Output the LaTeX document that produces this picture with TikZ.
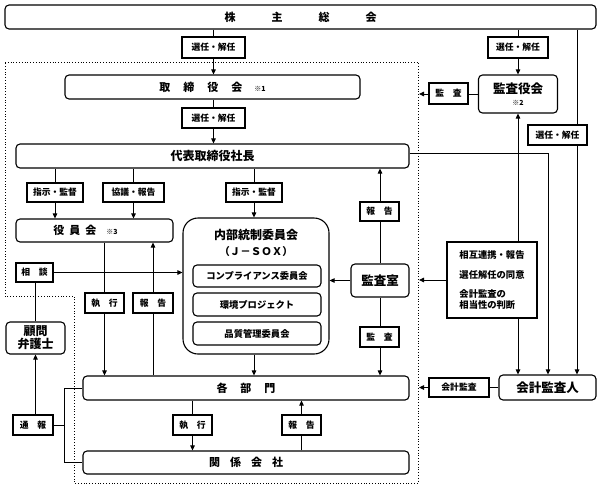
\documentclass[tikz,border=0pt]{standalone}
\usepackage{fontspec}
\setmainfont{Noto Sans CJK JP}
\usetikzlibrary{arrows.meta,backgrounds}
\tikzset{
  rbox/.style={draw, line width=1.1pt, rounded corners=4pt, fill=white, inner sep=0pt, align=center, font=\bfseries\fontsize{11}{13}\selectfont},
  sbox/.style={draw, line width=1.1pt, fill=white, inner sep=0pt},
  lbl/.style={draw, line width=1.3pt, fill=white, inner sep=0pt, font=\bfseries\fontsize{8.8}{10}\selectfont},
  conn/.style={line width=0.9pt},
  arr/.style={conn, -{Triangle[length=5pt,width=4.5pt]}},
  dotb/.style={line width=0.8pt, dotted}
}
\newcommand{\smallnote}[1]{{\fontsize{7}{8}\selectfont #1}}
\begin{document}
\begin{tikzpicture}[x=1pt,y=-1pt]
\useasboundingbox (0,0) rectangle (601,490);
% main boxes
\node[rbox, minimum width=591, minimum height=24] (kabu) at (300.5,17) {株\hspace{36pt}主\hspace{36pt}総\hspace{36pt}会};
\node[rbox, minimum width=295, minimum height=24] (tori) at (212.5,87) {取\hspace{13pt}締\hspace{13pt}役\hspace{13pt}会\hspace{12pt}\smallnote{※1}};
\node[rbox, minimum width=393, minimum height=24, font=\bfseries\fontsize{12}{14}\selectfont] (daihyo) at (212.5,156) {代表取締役社長};
\node[rbox, minimum width=79, minimum height=38, font=\bfseries\fontsize{12.5}{14}\selectfont] (kansayaku) at (518,94) {監査役会\\[-2pt]\smallnote{※2}};
\node[rbox, minimum width=157, minimum height=23] (yakuin) at (94.5,230.5) {役\hspace{5pt}員\hspace{5pt}会\hspace{10pt}\smallnote{※3}\hspace{18pt}};
\node[draw, line width=1.1pt, rounded corners=15pt, fill=white, minimum width=146, minimum height=136, inner sep=0pt] (naibu) at (256,286) {};
\node[font=\bfseries\fontsize{12}{14}\selectfont, inner sep=0pt] (naibut) at (256,235) {内部統制委員会};
\node[font=\bfseries\fontsize{10.5}{12}\selectfont, inner sep=0pt] (jsox) at (256,252) {（Ｊ－ＳＯＸ）};
\node[rbox, minimum width=128, minimum height=22, font=\bfseries\fontsize{9.3}{11}\selectfont] (comp) at (257,276) {コンプライアンス委員会};
\node[rbox, minimum width=128, minimum height=23, font=\bfseries\fontsize{9.3}{11}\selectfont] (kankyo) at (257,304.5) {環境プロジェクト};
\node[rbox, minimum width=128, minimum height=23, font=\bfseries\fontsize{9.3}{11}\selectfont] (hinshitsu) at (257,333.5) {品質管理委員会};
\node[rbox, minimum width=58, minimum height=33, font=\bfseries\fontsize{12.5}{14}\selectfont] (kansashitsu) at (380,280.5) {監査室};
\node[sbox, minimum width=90, minimum height=76, align=left, font=\bfseries\fontsize{9.3}{10.5}\selectfont] (sogo) at (492,280) {相互連携・報告\\[9.5pt]選任解任の同意\\[8.5pt]会計監査の\\相当性の判断};
\node[rbox, minimum width=97, minimum height=25, font=\bfseries\fontsize{12.5}{14}\selectfont] (kaikei) at (547.5,387.5) {会計監査人};
\node[rbox, minimum width=326, minimum height=24] (kakubu) at (246,388) {各\hspace{13pt}部\hspace{13pt}門};
\node[rbox, minimum width=326, minimum height=23] (kankei) at (246,462.5) {関\hspace{10pt}係\hspace{10pt}会\hspace{10pt}社};
\node[rbox, minimum width=59, minimum height=32, font=\bfseries\fontsize{12}{13}\selectfont] (komon) at (35.5,338) {顧問\\弁護士};
% labels
\node[lbl, minimum width=63, minimum height=21] (L1) at (213.5,47.5) {選任・解任};
\node[lbl, minimum width=63, minimum height=20] (L2) at (213.5,118) {選任・解任};
\node[lbl, minimum width=60, minimum height=21] (L3) at (518,47.5) {選任・解任};
\node[lbl, minimum width=39, minimum height=21] (L4) at (448.5,93.5) {監　査};
\node[lbl, minimum width=59, minimum height=20] (L5) at (557.5,135) {選任・解任};
\node[lbl, minimum width=56, minimum height=19] (L6) at (55,192.5) {指示・監督};
\node[lbl, minimum width=61, minimum height=19] (L7) at (133.5,192.5) {協議・報告};
\node[lbl, minimum width=56, minimum height=19] (L8) at (254,192.5) {指示・監督};
\node[lbl, minimum width=39, minimum height=19] (L9) at (379.5,211.5) {報　告};
\node[lbl, minimum width=37, minimum height=19] (L10) at (34.5,272.5) {相　談};
\node[lbl, minimum width=39, minimum height=20] (L11) at (104.5,303) {執　行};
\node[lbl, minimum width=40, minimum height=20] (L12) at (153,303) {報　告};
\node[lbl, minimum width=39, minimum height=20] (L13) at (379.5,337) {監　査};
\node[lbl, minimum width=60, minimum height=19] (L14) at (459,387.5) {会計監査};
\node[lbl, minimum width=39, minimum height=20] (L15) at (192.5,425) {執　行};
\node[lbl, minimum width=39, minimum height=20] (L16) at (301.5,425) {報　告};
\node[lbl, minimum width=40, minimum height=20] (L17) at (33,425) {通　報};
% helper coordinates
\coordinate (dr) at (419,0);
\coordinate (c64) at (64,0);
\coordinate (c548) at (548,0);
\coordinate (c577) at (577,0);
\begin{scope}[on background layer]
\fill[white] (0,0) rectangle (601,490);
\draw[dotb] (5,62) -- (418,62) -- (418,483) -- (74,483) -- (74,296) -- (5,296) -- cycle;
\draw[arr] (kabu.south -| L1) -- (tori.north -| L1);
\draw[arr] (tori.south -| L2) -- (daihyo.north -| L2);
\draw[arr] (kabu.south -| kansayaku) -- (kansayaku.north);
\draw[arr] (kansayaku.west) -- (kansayaku.west -| dr);
\draw[arr] (kabu.south -| c577) -- (kaikei.north -| c577);
\draw[arr] ([yshift=3pt]daihyo.east) -| (c548 |- kaikei.north);
\draw[arr] (daihyo.south -| L6) -- (yakuin.north -| L6);
\draw[arr] (daihyo.south -| L7) -- (yakuin.north -| L7);
\draw[arr] (daihyo.south -| L8) -- (naibu.north -| L8);
\draw[arr] (kansashitsu.north) -- (daihyo.south -| kansashitsu);
\draw[arr] (kansashitsu.west) -- (naibu.east |- kansashitsu.west);
\draw[arr] (sogo.west) -- (sogo.west -| dr);
\draw[arr] (sogo.north -| kansayaku) -- (kansayaku.south);
\draw[arr] (sogo.south -| kansayaku) -- (kaikei.north -| kansayaku);
\draw[arr] (kansashitsu.south) -- (kakubu.north -| kansashitsu);
\draw[arr] (kaikei.west) -- (kaikei.west -| dr);
\draw[arr] (naibu.south -| L8) -- (kakubu.north -| L8);
\draw[arr] (yakuin.south -| L11) -- (kakubu.north -| L11);
\draw[arr] (kakubu.north -| L12) -- (yakuin.south -| L12);
\draw[arr] (L10.east) -- (naibu.west |- L10.east);
\draw[conn] (komon.north) -- (L10.south -| komon);
\draw[arr] (L17.north -| komon) -- (komon.south);
\draw[conn] (kakubu.west) -- (kakubu.west -| c64) -- (kankei.west -| c64) -- (kankei.west);
\draw[conn] (L17.east) -- (L17.east -| c64);
\draw[arr] (kakubu.south -| L15) -- (kankei.north -| L15);
\draw[arr] (kankei.north -| L16) -- (kakubu.south -| L16);
\end{scope}
\end{tikzpicture}
\end{document}
